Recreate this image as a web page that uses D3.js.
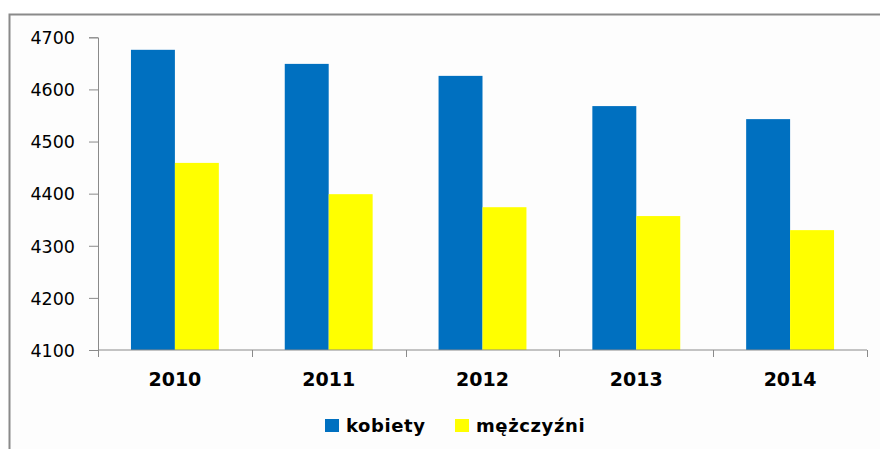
<!DOCTYPE html>
<html>
<head>
<meta charset="utf-8">
<script src="https://cdn.jsdelivr.net/npm/d3@7"></script>
<style>
  body { margin: 0; background: #fff; }
  svg { display: block; }
</style>
</head>
<body>
<script>
var width = 880,
    height = 449;

// data
var years = ["2010", "2011", "2012", "2013", "2014"];
var kobiety = [4676, 4649, 4626, 4568, 4543];
var mezczyzni = [4459, 4399, 4374, 4357, 4330];
var seriesNames = ["kobiety", "mężczyźni"];
var seriesColors = ["#0070c0", "#ffff00"];
var yTicks = [4100, 4200, 4300, 4400, 4500, 4600, 4700];

var rows = years.map(function(y, i) {
  return { year: y, values: [kobiety[i], mezczyzni[i]] };
});

var plot = { left: 98, right: 867, top: 37.3, bottom: 350 };

var svg = d3.select("body").append("svg")
    .attr("width", width)
    .attr("height", height);

// outer frame (right / bottom edges fall outside the picture)
svg.append("rect")
    .attr("x", 9.5)
    .attr("y", 14.5)
    .attr("width", 900)
    .attr("height", 460)
    .attr("fill", "#fdfdfd")
    .attr("stroke", "#8a8a8a")
    .attr("stroke-width", 2);

var x = d3.scaleBand()
    .domain(years)
    .range([plot.left, plot.right]);

var x1 = d3.scaleBand()
    .domain([0, 1])
    .range([0, x.bandwidth()])
    .paddingOuter(0.75)
    .paddingInner(0);

var y = d3.scaleLinear()
    .domain([4100, 4700])
    .range([plot.bottom, plot.top]);

// bars
var groups = svg.append("g").selectAll("g")
    .data(rows)
    .enter().append("g")
    .attr("transform", function(d) { return "translate(" + x(d.year) + ",0)"; });

groups.selectAll("rect")
    .data(function(d) { return d.values; })
    .enter().append("rect")
    .attr("x", function(d, i) { return x1(i); })
    .attr("width", x1.bandwidth())
    .attr("y", function(d) { return y(d); })
    .attr("height", function(d) { return y(4100) - y(d); })
    .attr("fill", function(d, i) { return seriesColors[i]; });

// y axis
var yAxis = svg.append("g")
    .attr("transform", "translate(" + plot.left + ",0)")
    .call(d3.axisLeft(y).tickValues(yTicks).tickSize(9).tickPadding(14).tickFormat(d3.format("d")));

yAxis.select(".domain").attr("stroke", "#8a8a8a");
yAxis.selectAll(".tick line").attr("stroke", "#8a8a8a");
yAxis.selectAll(".tick text")
    .attr("fill", "#000")
    .style("font-family", "'DejaVu Sans', Verdana, sans-serif")
    .style("font-size", "17.5px")
    .attr("dy", "0.36em");

// x axis (ticks between categories)
var xAxisG = svg.append("g")
    .attr("transform", "translate(0," + plot.bottom + ")");

xAxisG.append("line")
    .attr("x1", plot.left)
    .attr("x2", plot.right)
    .attr("stroke", "#8a8a8a");

var edges = years.map(function(d) { return x(d); }).concat([plot.right]);
xAxisG.selectAll(".sep")
    .data(edges)
    .enter().append("line")
    .attr("class", "sep")
    .attr("x1", function(d) { return Math.round(d) + 0.5; })
    .attr("x2", function(d) { return Math.round(d) + 0.5; })
    .attr("y1", 0)
    .attr("y2", 7)
    .attr("stroke", "#8a8a8a");

xAxisG.selectAll(".lbl")
    .data(years)
    .enter().append("text")
    .attr("class", "lbl")
    .attr("x", function(d) { return x(d) + x.bandwidth() / 2; })
    .attr("y", 36)
    .attr("text-anchor", "middle")
    .style("font-family", "'DejaVu Sans', Verdana, sans-serif")
    .style("font-weight", "bold")
    .style("font-size", "19px")
    .text(function(d) { return d; });

// legend
var legendX = [325, 455];
var legend = svg.append("g").selectAll("g")
    .data(seriesNames)
    .enter().append("g")
    .attr("transform", function(d, i) { return "translate(" + legendX[i] + ",419)"; });

legend.append("rect")
    .attr("width", 14)
    .attr("height", 13)
    .attr("fill", function(d, i) { return seriesColors[i]; });

legend.append("text")
    .attr("x", 21)
    .attr("y", 13)
    .style("font-family", "'DejaVu Sans', Verdana, sans-serif")
    .style("font-weight", "bold")
    .style("font-size", "18px")
    .style("letter-spacing", "0.6px")
    .text(function(d) { return d; });
</script>
</body>
</html>
